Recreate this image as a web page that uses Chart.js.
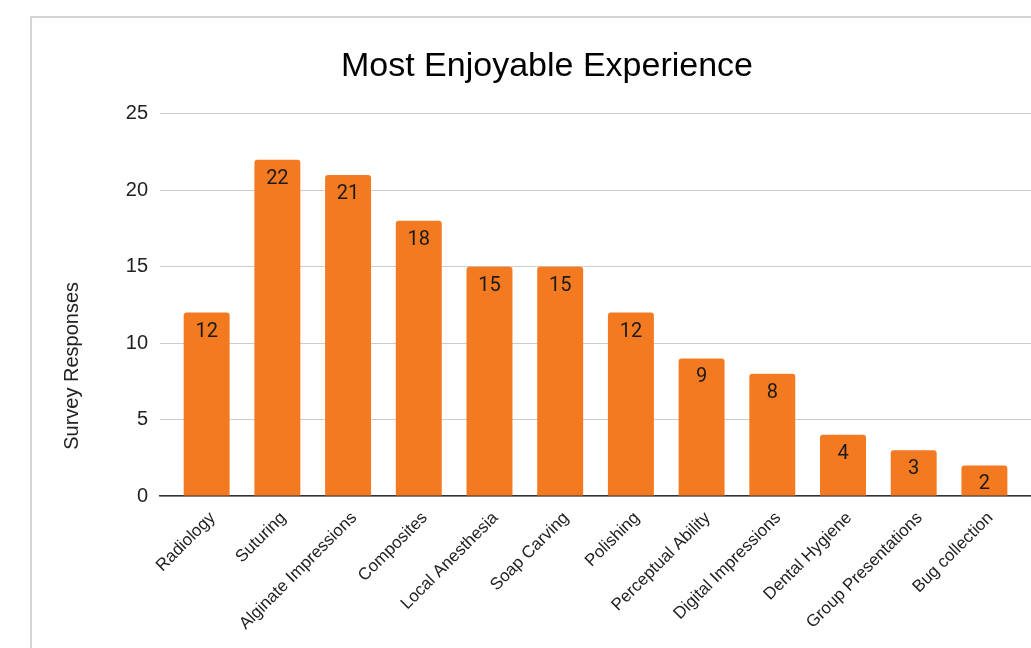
<!DOCTYPE html>
<html>
<head>
<meta charset="utf-8">
<script src="https://cdn.jsdelivr.net/npm/chart.js@4.4.1/dist/chart.umd.min.js"></script>
<style>
  html, body { margin: 0; padding: 0; background: #ffffff; overflow: hidden; width: 1031px; height: 648px; }
  #card { position: absolute; left: 30px; top: 16px; width: 1100px; height: 700px; border: 2px solid #d4d4d4; box-sizing: border-box; }
  #wrap { position: absolute; left: 0; top: 0; width: 1094px; height: 648px; }
</style>
</head>
<body>
<div id="card"></div>
<div id="wrap"><canvas id="c" width="1094" height="648"></canvas></div>
<script>
const categories = ["Radiology", "Suturing", "Alginate Impressions", "Composites", "Local Anesthesia", "Soap Carving", "Polishing", "Perceptual Ability", "Digital Impressions", "Dental Hygiene", "Group Presentations", "Bug collection"];
const responses = [12, 22, 21, 18, 15, 15, 12, 9, 8, 4, 3, 2];
const yTicks = [0, 5, 10, 15, 20, 25];
const chartTitle = "Most Enjoyable Experience";
const yTitle = "Survey Responses";

const barColor = "#f37a21";

const valueLabels = {
  id: "valueLabels",
  afterDatasetsDraw(chart) {
    const ctx = chart.ctx;
    const meta = chart.getDatasetMeta(0);
    ctx.save();
    ctx.font = "20px Roboto";
    ctx.fillStyle = "#1a1a1a";
    ctx.textAlign = "center";
    ctx.textBaseline = "middle";
    meta.data.forEach((bar, i) => {
      ctx.fillText(String(responses[i]), bar.x, bar.y + 19);
    });
    ctx.restore();
  }
};

const yAxisTitle = {
  id: "yAxisTitle",
  afterDraw(chart) {
    const ctx = chart.ctx;
    const a = chart.chartArea;
    ctx.save();
    ctx.font = "20px 'Liberation Sans', Arial, sans-serif";
    ctx.fillStyle = "#222222";
    ctx.textAlign = "center";
    ctx.textBaseline = "middle";
    ctx.translate(a.left - 88, (a.top + a.bottom) / 2 + 61);
    ctx.rotate(-Math.PI / 2);
    ctx.fillText(yTitle, 0, 0);
    ctx.restore();
  }
};

new Chart(document.getElementById("c"), {
  type: "bar",
  data: {
    datasets: [{
      data: responses.map((v, i) => ({ x: i, y: v })),
      backgroundColor: barColor,
      borderRadius: { topLeft: 3, topRight: 3 },
      borderSkipped: "bottom",
      barPercentage: 0.65,
      categoryPercentage: 1.0
    }]
  },
  options: {
    responsive: false,
    animation: false,
    devicePixelRatio: 1,
    layout: { padding: { left: 0, right: 0, top: 0, bottom: 0 } },
    plugins: {
      legend: { display: false },
      tooltip: { enabled: false },
      title: {
        display: true,
        text: chartTitle,
        color: "#000000",
        font: { family: "'Liberation Sans', Arial, sans-serif", size: 34, weight: "normal", lineHeight: 1.2 },
        padding: { top: 46, bottom: 27 }
      }
    },
    scales: {
      x: {
        type: "linear",
        offset: false,
        min: -0.66,
        max: 12.55,
        grid: { display: false, offset: false },
        border: { display: true, color: "#333333", width: 1.5 },
        ticks: {
          stepSize: 1,
          includeBounds: false,
          autoSkip: false,
          minRotation: 45,
          maxRotation: 45,
          padding: 4,
          labelOffset: 6,
          color: "#222222",
          font: { family: "'Liberation Sans', Arial, sans-serif", size: 17 },
          callback: (v) => (Number.isInteger(v) && v >= 0 && v < categories.length) ? categories[v] : ""
        },
        afterFit(scale) { scale.height = 152; scale.paddingLeft = 0; scale.paddingRight = 0; }
      },
      y: {
        min: 0,
        max: 25,
        grid: { color: "#cccccc", lineWidth: 1, drawTicks: false },
        border: { display: false },
        ticks: {
          stepSize: 5,
          padding: 12,
          color: "#222222",
          font: { family: "'Liberation Sans', Arial, sans-serif", size: 20 },
          callback: (v) => yTicks.includes(v) ? String(v) : ""
        },
        afterFit(scale) { scale.width = 160; }
      }
    }
  },
  plugins: [valueLabels, yAxisTitle]
});
</script>
</body>
</html>
